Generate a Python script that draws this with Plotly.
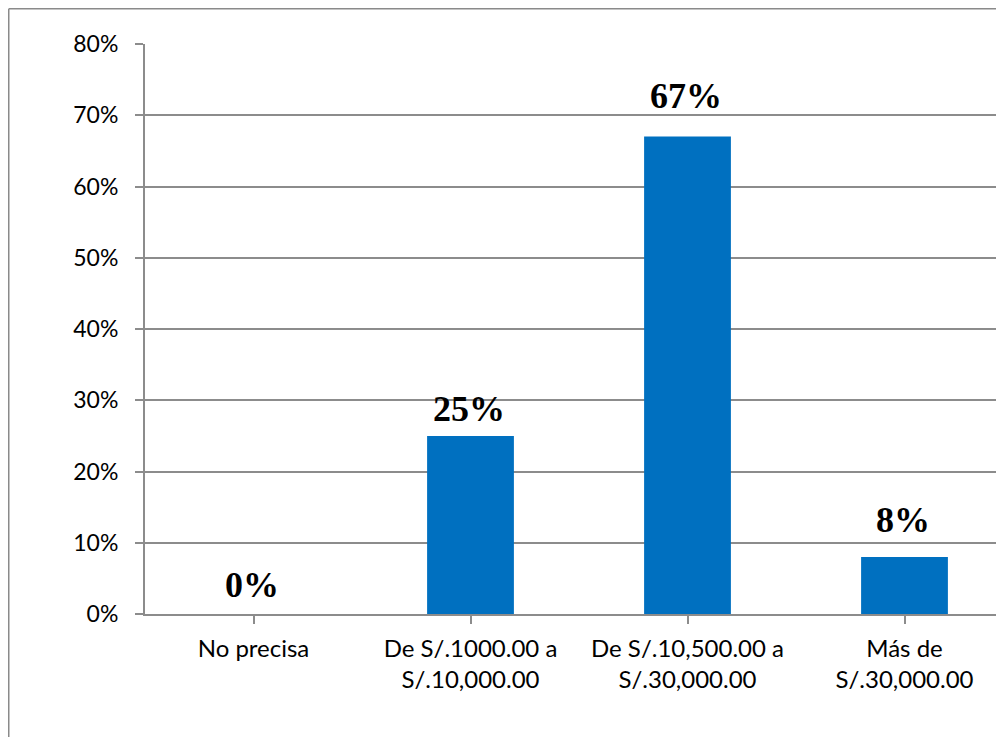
import plotly.graph_objects as go

# Rangos de ingreso y porcentaje de encuestados
categorias = ["No precisa", "De S/.1000.00 a<br>S/.10,000.00",
              "De S/.10,500.00 a<br>S/.30,000.00", "Más de<br>S/.30,000.00"]
porcentajes = [0, 25, 67, 8]
y_ticks = [0, 10, 20, 30, 40, 50, 60, 70, 80]

# distance (px) between label and bar top, as placed in the original
label_gap = [16, 14, 28, 24]

# page has an 8px body margin, so the figure is sized to fit the window
W, H = 996, 729
L, T, B = 137, 36, 123
PW, PH = W - L, H - T - B

GRID = "#8c8c8c"
BLUE = "#0070C0"

fig = go.Figure()
fig.add_trace(go.Bar(
    x=list(range(len(categorias))),
    y=[p / 100 for p in porcentajes],
    width=0.4,
    marker=dict(color=BLUE, line=dict(width=0)),
    hoverinfo="skip",
    showlegend=False,
))

for i, (p, gap) in enumerate(zip(porcentajes, label_gap)):
    fig.add_annotation(
        x=i, y=p / 100, xref="x", yref="y",
        text=f"{p}%", showarrow=False,
        yanchor="bottom", yshift=gap - 9, xshift=-2,
        font=dict(family="Liberation Serif", size=36, color="black", weight="bold"),
    )

# outer chart-area border (cropped on the right and bottom)
bx = (0.75 - L) / PW
by = (H - B - 0.75) / PH
fig.add_shape(type="line", xref="paper", yref="paper",
              x0=bx, x1=bx, y0=by, y1=-B / PH - 0.01,
              line=dict(color="#8a8a8a", width=1.5))
fig.add_shape(type="line", xref="paper", yref="paper",
              x0=bx, x1=1.01, y0=by, y1=by,
              line=dict(color="#8a8a8a", width=1.5))

fig.update_layout(
    width=W, height=H,
    margin=dict(l=L, r=0, t=T, b=B),
    paper_bgcolor="white", plot_bgcolor="white",
    font=dict(family="Lato", size=23, color="black"),
    xaxis=dict(
        range=[-0.5, -0.5 + PW / 217.0],
        tickmode="array",
        tickvals=list(range(len(categorias))),
        ticktext=categorias,
        tickson="boundaries",
        ticks="outside", ticklen=8, tickwidth=2, tickcolor=GRID,
        showline=True, linecolor=GRID, linewidth=2,
        showgrid=False, zeroline=False,
        ticklabelstandoff=4,
        tickfont=dict(family="Lato", size=24, color="black"),
    ),
    yaxis=dict(
        range=[0, 0.8],
        tickmode="array",
        tickvals=[v / 100 for v in y_ticks],
        ticktext=[f"{v}%" for v in y_ticks],
        ticks="outside", ticklen=8, tickwidth=2, tickcolor=GRID,
        showline=True, linecolor=GRID, linewidth=2,
        showgrid=True, gridcolor=GRID, gridwidth=2,
        zeroline=False,
        ticklabelstandoff=12,
        tickfont=dict(family="Lato", size=23, color="black"),
    ),
)

fig.write_html("out.html")
